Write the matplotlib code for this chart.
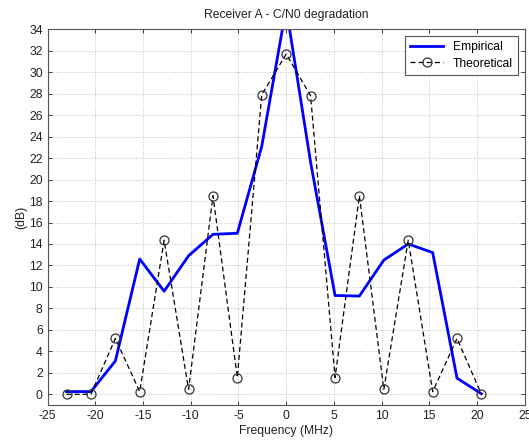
import numpy as np
import matplotlib.pyplot as plt

# frequency offsets (MHz)
freq = np.array([-23.02, -20.46, -17.90, -15.35, -12.79, -10.23, -7.67, -5.12, -2.56,
                 0.0, 2.56, 5.12, 7.67, 10.23, 12.79, 15.35, 17.90, 20.46])

empirical = [0.25, 0.25, 3.1, 12.6, 9.6, 12.9, 14.9, 15.0, 23.1,
             36.0, 21.6, 9.2, 9.15, 12.5, 14.0, 13.2, 1.5, 0.05]

theoretical = [0.0, 0.0, 5.2, 0.25, 14.35, 0.45, 18.5, 1.55, 27.9,
               31.7, 27.8, 1.55, 18.5, 0.45, 14.35, 0.25, 5.2, 0.0]

xticks = np.arange(-25, 26, 5)
yticks = np.arange(0, 35, 2)

plt.rcParams['font.family'] = ['Liberation Sans', 'DejaVu Sans']
plt.rcParams['font.size'] = 8.7
plt.rcParams['axes.unicode_minus'] = False

fig = plt.figure(figsize=(5.29, 4.42), dpi=100)
ax = fig.add_axes([0.090, 0.0837, 0.902, 0.850])

ax.plot(freq, empirical, color='#0000ff', lw=2, label='Empirical')
ax.plot(freq, theoretical, color='black', lw=0.9, ls=(0, (4, 2.5)), marker='o',
        ms=6.5, mfc='none', mec='#333333', mew=0.9, label='Theoretical')

ax.set_xlim(-25, 25)
ax.set_ylim(-1, 34)
ax.set_xticks(xticks)
ax.set_yticks(yticks)
ax.grid(True, ls=':', color='#c0c0c0', lw=0.7)
ax.tick_params(direction='in', top=True, right=True, length=3, width=0.6,
               colors='#222222', labelsize=8.7)
for s in ax.spines.values():
    s.set_color('#555555')
    s.set_linewidth(0.8)

ax.set_title('Receiver A - C/N0 degradation', fontsize=8.7, color='#222222', pad=8)
ax.set_xlabel('Frequency (MHz)', fontsize=8.7, color='#222222', labelpad=2)
ax.set_ylabel('(dB)', fontsize=8.7, color='#222222', labelpad=1)

leg = ax.legend(loc='upper right', fontsize=8.7, fancybox=False, framealpha=1,
                edgecolor='#555555', handlelength=2.7, borderpad=0.45,
                labelspacing=0.35, borderaxespad=0.55)
leg.get_frame().set_linewidth(0.8)

fig.savefig('out.png', dpi=100)
